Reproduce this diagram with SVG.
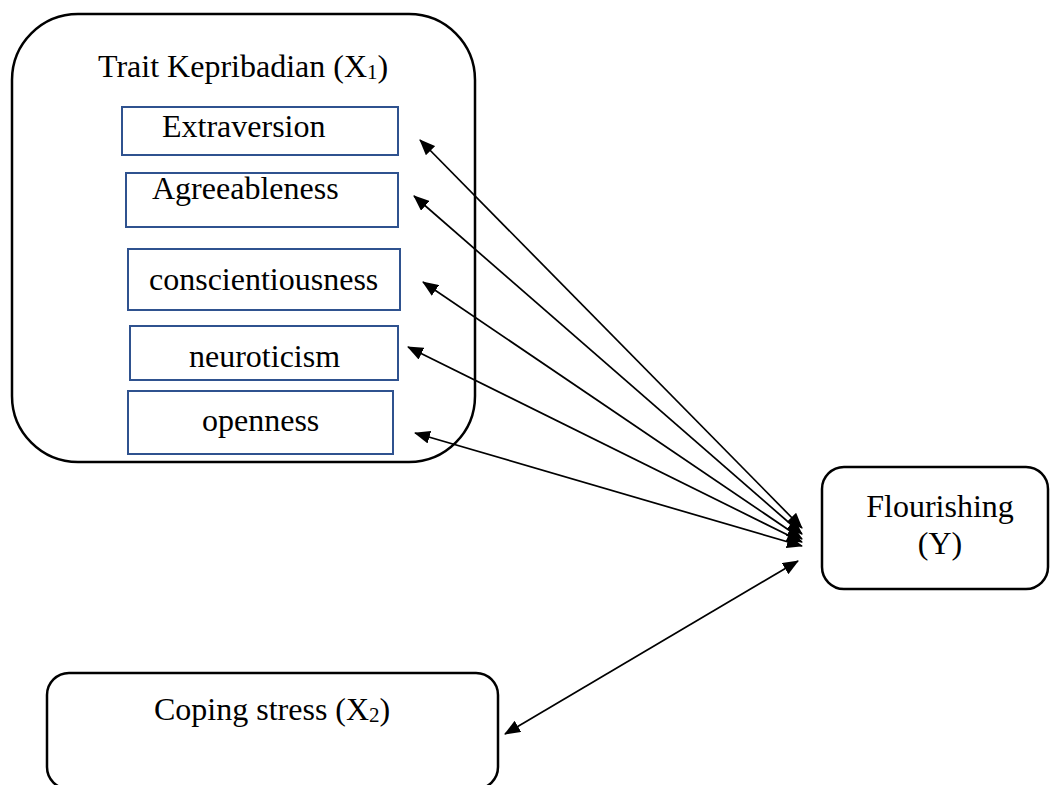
<svg xmlns="http://www.w3.org/2000/svg" width="1050" height="785" viewBox="0 0 1050 785">
<style>
.t{font-family:"Liberation Serif","Times New Roman",serif;font-size:32px;fill:#000}
.outer{fill:#fff;stroke:#000;stroke-width:2.5}
.inner{fill:#fff;stroke:#2F528F;stroke-width:2}
.c{stroke:#000;stroke-width:1.7;fill:none;marker-start:url(#ah);marker-end:url(#ah)}
</style>
<defs>
<marker id="ah" markerUnits="userSpaceOnUse" markerWidth="16" markerHeight="13" refX="15" refY="6.5" orient="auto-start-reverse" viewBox="0 0 16 13">
<path d="M0,0 L16,6.5 L0,13 z" fill="#000"/>
</marker>
</defs>
<rect width="1050" height="785" fill="#fff"/>
<g id="trait">
<rect class="outer" x="12" y="14" width="463" height="448" rx="66" ry="66"/>
<text class="t" x="98" y="77">Trait Kepribadian (X<tspan font-size="21" dy="2">1</tspan><tspan dy="-2">)</tspan></text>
</g>
<g id="extraversion">
<rect class="inner" x="122" y="107" width="276" height="48"/>
<text class="t" x="162" y="137">Extraversion</text>
</g>
<g id="agreeableness">
<rect class="inner" x="126" y="173" width="272" height="54"/>
<text class="t" x="152" y="199">Agreeableness</text>
</g>
<g id="conscientiousness">
<rect class="inner" x="128" y="249" width="272" height="61"/>
<text class="t" x="149" y="290">conscientiousness</text>
</g>
<g id="neuroticism">
<rect class="inner" x="130" y="326" width="268" height="54"/>
<text class="t" x="189" y="367">neuroticism</text>
</g>
<g id="openness">
<rect class="inner" x="128" y="391" width="265" height="63"/>
<text class="t" x="202" y="431">openness</text>
</g>
<g id="flourishing">
<rect class="outer" x="822" y="467" width="226" height="122" rx="22" ry="22"/>
<text class="t" x="940" y="517" text-anchor="middle">Flourishing</text>
<text class="t" x="940" y="554" text-anchor="middle">(Y)</text>
</g>
<g id="coping">
<rect class="outer" x="47" y="673" width="451" height="116" rx="22" ry="22"/>
<text class="t" x="154" y="720">Coping stress (X<tspan font-size="21" dy="2">2</tspan><tspan dy="-2">)</tspan></text>
</g>
<g id="connectors">
<line class="c" x1="420" y1="140" x2="802" y2="528"/>
<line class="c" x1="414" y1="196" x2="802" y2="534"/>
<line class="c" x1="423" y1="282" x2="802" y2="539"/>
<line class="c" x1="408" y1="347" x2="802" y2="542"/>
<line class="c" x1="415" y1="433" x2="802" y2="546"/>
<line class="c" x1="505" y1="734" x2="798" y2="561"/>
</g>
</svg>
